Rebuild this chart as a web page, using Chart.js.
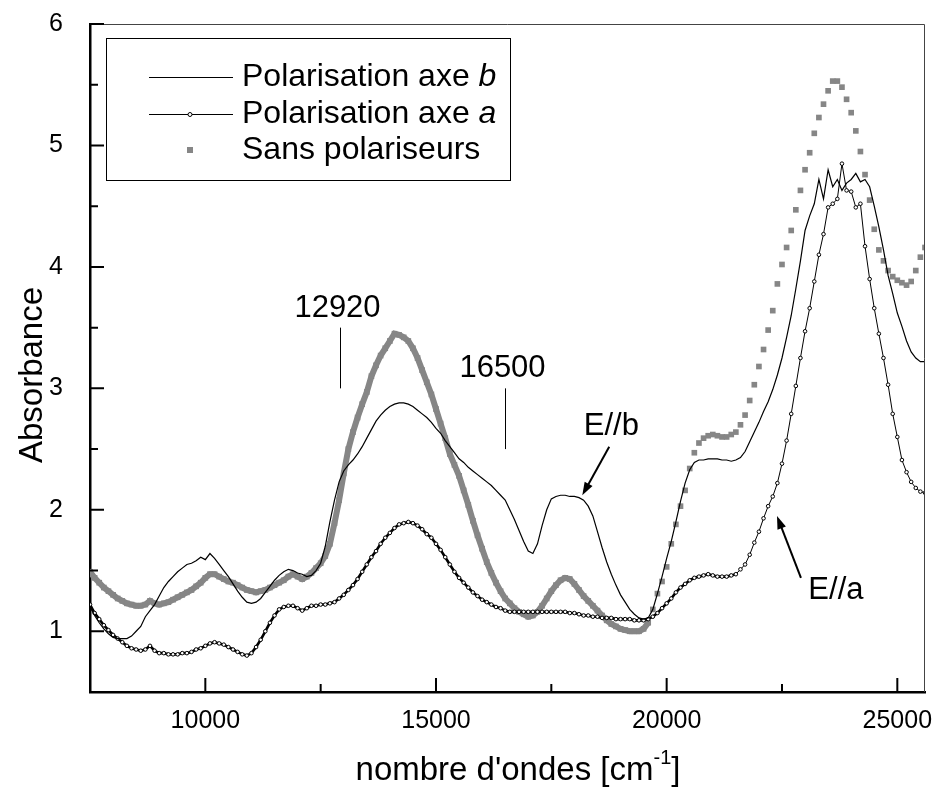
<!DOCTYPE html>
<html>
<head>
<meta charset="utf-8">
<title>Absorbance</title>
<script src="https://cdn.jsdelivr.net/npm/chart.js@4.4.1/dist/chart.umd.min.js"></script>
<style>
html, body { margin: 0; padding: 0; background: #fff; }
#wrap { width: 935px; height: 789px; }
</style>
</head>
<body>
<div id="wrap"><canvas id="spectre" width="935" height="789"></canvas></div>
<script>
// nombre d'ondes (cm-1)
const nombreOndes = [
  7500, 7600, 7700, 7800, 7900, 8000, 8100, 8200, 8300, 8400,
  8500, 8600, 8700, 8800, 8900, 9000, 9100, 9200, 9300, 9400,
  9500, 9600, 9700, 9800, 9900, 10000, 10100, 10200, 10300, 10400,
  10500, 10600, 10700, 10800, 10900, 11000, 11100, 11200, 11300, 11400,
  11500, 11600, 11700, 11800, 11900, 12000, 12100, 12200, 12300, 12400,
  12500, 12600, 12700, 12800, 12900, 13000, 13100, 13200, 13300, 13400,
  13500, 13600, 13700, 13800, 13900, 14000, 14100, 14200, 14300, 14400,
  14500, 14600, 14700, 14800, 14900, 15000, 15100, 15200, 15300, 15400,
  15500, 15600, 15700, 15800, 15900, 16000, 16100, 16200, 16300, 16400,
  16500, 16600, 16700, 16800, 16900, 17000, 17100, 17200, 17300, 17400,
  17500, 17600, 17700, 17800, 17900, 18000, 18100, 18200, 18300, 18400,
  18500, 18600, 18700, 18800, 18900, 19000, 19100, 19200, 19300, 19400,
  19500, 19600, 19700, 19800, 19900, 20000, 20100, 20200, 20300, 20400,
  20500, 20600, 20700, 20800, 20900, 21000, 21100, 21200, 21300, 21400,
  21500, 21600, 21700, 21800, 21900, 22000, 22100, 22200, 22300, 22400,
  22500, 22600, 22700, 22800, 22900, 23000, 23100, 23200, 23300, 23400,
  23500, 23600, 23700, 23800, 23900, 24000, 24100, 24200, 24300, 24400,
  24500, 24600, 24700, 24800, 24900, 25000, 25100, 25200, 25300, 25400,
  25500, 25600
];

// absorbance, polarisation le long de l'axe b
const axeB = [
  1.20, 1.13, 1.07, 1.02, 0.98, 0.95, 0.94, 0.94, 0.94, 0.96,
  1.00, 1.04, 1.12, 1.17, 1.22, 1.29, 1.36, 1.41, 1.45, 1.49,
  1.52, 1.55, 1.56, 1.58, 1.61, 1.59, 1.64, 1.60, 1.55, 1.50,
  1.45, 1.39, 1.33, 1.28, 1.24, 1.23, 1.24, 1.27, 1.32, 1.37,
  1.42, 1.46, 1.49, 1.51, 1.50, 1.48, 1.47, 1.45, 1.46, 1.50,
  1.56, 1.70, 1.90, 2.08, 2.23, 2.32, 2.37, 2.41, 2.46, 2.52,
  2.59, 2.66, 2.73, 2.78, 2.82, 2.85, 2.87, 2.88, 2.88, 2.87,
  2.85, 2.82, 2.79, 2.76, 2.72, 2.67, 2.63, 2.57, 2.52, 2.47,
  2.42, 2.39, 2.35, 2.32, 2.29, 2.26, 2.23, 2.20, 2.16, 2.12,
  2.08, 2.00, 1.92, 1.83, 1.74, 1.66, 1.64, 1.72, 1.87, 2.00,
  2.09, 2.11, 2.12, 2.12, 2.11, 2.11, 2.10, 2.08, 2.03, 1.95,
  1.82, 1.69, 1.57, 1.47, 1.38, 1.30, 1.24, 1.18, 1.14, 1.11,
  1.10, 1.11, 1.18, 1.31, 1.45, 1.60, 1.74, 1.90, 2.07, 2.22,
  2.33, 2.39, 2.41, 2.41, 2.42, 2.42, 2.42, 2.41, 2.41, 2.40,
  2.41, 2.43, 2.48, 2.56, 2.64, 2.72, 2.81, 2.89, 2.99, 3.11,
  3.25, 3.42, 3.60, 3.82, 4.05, 4.30, 4.42, 4.52, 4.72, 4.56,
  4.80, 4.66, 4.72, 4.63, 4.69, 4.72, 4.77, 4.70, 4.72, 4.66,
  4.50, 4.33, 4.14, 3.93, 3.78, 3.62, 3.51, 3.39, 3.30, 3.25,
  3.22, 3.22
];

// absorbance, polarisation le long de l'axe a
const axeA = [
  1.22, 1.15, 1.10, 1.05, 1.01, 0.97, 0.94, 0.91, 0.88, 0.86,
  0.85, 0.84, 0.85, 0.88, 0.84, 0.82, 0.82, 0.81, 0.81, 0.81,
  0.82, 0.82, 0.83, 0.85, 0.86, 0.88, 0.90, 0.91, 0.90, 0.89,
  0.87, 0.85, 0.83, 0.81, 0.80, 0.82, 0.87, 0.93, 1.00, 1.07,
  1.13, 1.18, 1.20, 1.21, 1.21, 1.19, 1.17, 1.19, 1.21, 1.21,
  1.22, 1.22, 1.23, 1.24, 1.27, 1.30, 1.34, 1.38, 1.43, 1.49,
  1.55, 1.61, 1.66, 1.72, 1.77, 1.81, 1.85, 1.88, 1.89, 1.90,
  1.89, 1.87, 1.84, 1.80, 1.77, 1.72, 1.67, 1.61, 1.55, 1.49,
  1.44, 1.40, 1.36, 1.32, 1.29, 1.26, 1.24, 1.22, 1.20, 1.19,
  1.17, 1.16, 1.16, 1.16, 1.16, 1.16, 1.16, 1.16, 1.16, 1.16,
  1.16, 1.16, 1.16, 1.16, 1.15, 1.15, 1.14, 1.13, 1.13, 1.12,
  1.12, 1.11, 1.11, 1.11, 1.10, 1.10, 1.10, 1.10, 1.09, 1.09,
  1.09, 1.10, 1.12, 1.15, 1.19, 1.23, 1.27, 1.32, 1.36, 1.39,
  1.42, 1.44, 1.45, 1.46, 1.47, 1.46, 1.45, 1.45, 1.45, 1.46,
  1.47, 1.51, 1.55, 1.63, 1.73, 1.82, 1.93, 2.03, 2.11, 2.22,
  2.38, 2.57, 2.79, 3.02, 3.25, 3.47, 3.66, 3.88, 4.10, 4.27,
  4.49, 4.52, 4.56, 4.85, 4.63, 4.62, 4.49, 4.52, 4.17, 3.90,
  3.66, 3.45, 3.25, 3.03, 2.79, 2.60, 2.41, 2.31, 2.23, 2.18,
  2.15, 2.14
];

// absorbance sans polariseurs
const sansPol = [
  1.49, 1.44, 1.40, 1.36, 1.33, 1.30, 1.27, 1.25, 1.23, 1.22,
  1.21, 1.21, 1.22, 1.25, 1.23, 1.22, 1.23, 1.24, 1.26, 1.28,
  1.30, 1.32, 1.34, 1.37, 1.40, 1.44, 1.47, 1.47, 1.45, 1.43,
  1.41, 1.40, 1.38, 1.36, 1.34, 1.33, 1.32, 1.33, 1.34, 1.36,
  1.38, 1.40, 1.42, 1.45, 1.47, 1.45, 1.43, 1.45, 1.48, 1.52,
  1.56, 1.62, 1.72, 1.89, 2.08, 2.30, 2.50, 2.64, 2.76, 2.87,
  2.97, 3.10, 3.19, 3.27, 3.33, 3.39, 3.45, 3.44, 3.42, 3.39,
  3.33, 3.25, 3.15, 3.05, 2.95, 2.83, 2.71, 2.59, 2.46, 2.37,
  2.28, 2.16, 2.04, 1.91, 1.79, 1.68, 1.57, 1.48, 1.40, 1.33,
  1.27, 1.23, 1.19, 1.16, 1.14, 1.12, 1.13, 1.16, 1.21, 1.27,
  1.33, 1.38, 1.42, 1.44, 1.43, 1.39, 1.34, 1.29, 1.25, 1.21,
  1.17, 1.13, 1.09, 1.06, 1.04, 1.02, 1.01, 1.00, 1.00, 1.00,
  1.02, 1.07, 1.18, 1.31, 1.41, 1.53, 1.72, 1.88, 2.03, 2.16,
  2.34, 2.47, 2.55, 2.59, 2.61, 2.62, 2.61, 2.60, 2.60, 2.62,
  2.64, 2.70, 2.78, 2.90, 3.03, 3.18, 3.32, 3.48, 3.64, 3.86,
  4.02, 4.16, 4.30, 4.47, 4.63, 4.80, 4.94, 5.10, 5.23, 5.34,
  5.45, 5.53, 5.53, 5.48, 5.38, 5.27, 5.12, 4.95, 4.76, 4.55,
  4.31, 4.14, 4.05, 3.97, 3.92, 3.89, 3.87, 3.85, 3.88, 3.97,
  4.08, 4.16
];

// graduations
const xTicks = [10000, 15000, 20000, 25000];
const xMinor = [12500, 17500, 22500];
const yTicks = [1, 2, 3, 4, 5, 6];
const yMinor = [1.5, 2.5, 3.5, 4.5, 5.5];

// repères de bandes : position, bas et haut du trait
const bandes = [12920, 16500];
const bandesBas = [3.0, 2.5];
const bandesHaut = [3.5, 3.0];

const FONT = "'Liberation Sans', Arial, Helvetica, sans-serif";
const GRIS = '#868686';

function points(vals) {
  return nombreOndes.map((x, i) => ({ x: x, y: vals[i] }));
}

// trait + flèche entre deux points en coordonnées de données
function fleche(ctx, x, y, from, to) {
  const x0 = x.getPixelForValue(from[0]), y0 = y.getPixelForValue(from[1]);
  const x1 = x.getPixelForValue(to[0]), y1 = y.getPixelForValue(to[1]);
  const ang = Math.atan2(y1 - y0, x1 - x0);
  const L = 13, W = 4.5;
  ctx.strokeStyle = '#000';
  ctx.lineWidth = 2;
  ctx.beginPath();
  ctx.moveTo(x0, y0);
  ctx.lineTo(x1 - Math.cos(ang) * L * 0.8, y1 - Math.sin(ang) * L * 0.8);
  ctx.stroke();
  ctx.fillStyle = '#000';
  ctx.beginPath();
  ctx.moveTo(x1, y1);
  ctx.lineTo(x1 - Math.cos(ang) * L - Math.sin(ang) * W, y1 - Math.sin(ang) * L + Math.cos(ang) * W);
  ctx.lineTo(x1 - Math.cos(ang) * L + Math.sin(ang) * W, y1 - Math.sin(ang) * L - Math.cos(ang) * W);
  ctx.closePath();
  ctx.fill();
}

const habillage = {
  id: 'habillage',
  afterDraw(chart) {
    const ctx = chart.ctx;
    const a = chart.chartArea;
    const x = chart.scales.x, y = chart.scales.y;
    ctx.save();

    // cadre haut et droite
    ctx.strokeStyle = '#444';
    ctx.lineWidth = 1;
    ctx.beginPath();
    ctx.moveTo(a.left, a.top + 0.5);
    ctx.lineTo(a.right - 0.5, a.top + 0.5);
    ctx.lineTo(a.right - 0.5, a.bottom);
    ctx.stroke();

    // graduations vers l'intérieur
    ctx.strokeStyle = '#000';
    ctx.lineWidth = 2;
    ctx.beginPath();
    xTicks.forEach(v => { const p = x.getPixelForValue(v); ctx.moveTo(p, a.bottom); ctx.lineTo(p, a.bottom - 14); });
    xMinor.forEach(v => { const p = x.getPixelForValue(v); ctx.moveTo(p, a.bottom); ctx.lineTo(p, a.bottom - 8); });
    yTicks.forEach(v => { const p = y.getPixelForValue(v); ctx.moveTo(a.left, p); ctx.lineTo(a.left + 14, p); });
    yMinor.forEach(v => { const p = y.getPixelForValue(v); ctx.moveTo(a.left, p); ctx.lineTo(a.left + 8, p); });
    ctx.stroke();

    // repères 12920 et 16500
    ctx.lineWidth = 1;
    ctx.font = '31px ' + FONT;
    ctx.fillStyle = '#000';
    ctx.textAlign = 'center';
    ctx.textBaseline = 'alphabetic';
    bandes.forEach((v, i) => {
      const p = Math.round(x.getPixelForValue(v)) + 0.5;
      const yh = y.getPixelForValue(bandesHaut[i]);
      ctx.beginPath();
      ctx.moveTo(p, y.getPixelForValue(bandesBas[i]));
      ctx.lineTo(p, yh);
      ctx.stroke();
      ctx.fillText(String(v), p - 3, yh - 11);
    });

    // flèches E//b et E//a
    fleche(ctx, x, y, [18755, 2.52], [18171, 2.12]);
    fleche(ctx, x, y, [22911, 1.44], [22392, 1.95]);
    ctx.textBaseline = 'middle';
    ctx.fillText('E//b', x.getPixelForValue(18800), y.getPixelForValue(2.69));
    ctx.fillText('E//a', x.getPixelForValue(23669), y.getPixelForValue(1.34));

    // légende
    const ds = chart.data.datasets;
    ctx.fillStyle = '#fff';
    ctx.fillRect(106, 38, 404, 142);
    ctx.strokeStyle = '#000';
    ctx.lineWidth = 1;
    ctx.strokeRect(106.5, 38.5, 404, 142);
    const rangs = [77, 114, 150];
    ctx.textAlign = 'left';
    ctx.textBaseline = 'middle';
    ds.forEach((d, i) => {
      const ry = rangs[i];
      ctx.strokeStyle = '#000';
      if (i < 2) {
        ctx.lineWidth = 1;
        ctx.beginPath();
        ctx.moveTo(149, ry + 0.5);
        ctx.lineTo(233, ry + 0.5);
        ctx.stroke();
      }
      if (i === 1) {
        ctx.fillStyle = '#fff';
        ctx.beginPath();
        ctx.arc(190, ry + 0.5, 2, 0, Math.PI * 2);
        ctx.fill();
        ctx.stroke();
      }
      if (i === 2) {
        ctx.fillStyle = GRIS;
        ctx.fillRect(187, ry - 3, 6, 6);
      }
      ctx.fillStyle = '#000';
      ctx.font = '32px ' + FONT;
      const base = d.label.replace(/ [ab]$/, ' ');
      ctx.fillText(base, 242, ry);
      if (base !== d.label) {
        const w = ctx.measureText(base).width;
        ctx.font = 'italic 32px ' + FONT;
        ctx.fillText(d.label.slice(-1), 242 + w, ry);
      }
    });

    // titres des axes
    ctx.fillStyle = '#000';
    ctx.font = '33px ' + FONT;
    ctx.save();
    ctx.translate(33, 375);
    ctx.rotate(-Math.PI / 2);
    ctx.textAlign = 'center';
    ctx.fillText('Absorbance', 0, 0);
    ctx.restore();

    const t1 = "nombre d'ondes [cm", t2 = '-1', t3 = ']';
    ctx.font = '33px ' + FONT;
    const w1 = ctx.measureText(t1).width, w3 = ctx.measureText(t3).width;
    ctx.font = '20px ' + FONT;
    const w2 = ctx.measureText(t2).width;
    let xt = 518 - (w1 + w2 + w3) / 2;
    const yt = 771;
    ctx.textAlign = 'left';
    ctx.font = '33px ' + FONT;
    ctx.fillText(t1, xt, yt);
    xt += w1;
    ctx.font = '20px ' + FONT;
    ctx.fillText(t2, xt, yt - 13);
    xt += w2;
    ctx.font = '33px ' + FONT;
    ctx.fillText(t3, xt, yt);

    ctx.restore();
  }
};

new Chart(document.getElementById('spectre'), {
  type: 'line',
  data: {
    datasets: [
      {
        label: 'Polarisation axe b',
        data: points(axeB),
        borderColor: '#000',
        borderWidth: 1.2,
        pointRadius: 0,
        tension: 0,
        order: 1
      },
      {
        label: 'Polarisation axe a',
        data: points(axeA),
        borderColor: '#000',
        borderWidth: 1,
        pointRadius: 1.8,
        pointBorderWidth: 1,
        pointBorderColor: '#000',
        pointBackgroundColor: '#fff',
        segment: { borderWidth: c => c.p0.parsed.x < 21500 ? 2.6 : 1 },
        tension: 0,
        order: 2
      },
      {
        label: 'Sans polariseurs',
        data: points(sansPol),
        borderColor: GRIS,
        borderWidth: 6,
        pointStyle: 'rect',
        pointRadius: 4,
        pointBorderWidth: 0,
        pointBackgroundColor: GRIS,
        segment: { borderColor: c => c.p0.parsed.x >= 19600 ? 'rgba(0,0,0,0)' : GRIS },
        tension: 0,
        order: 3
      }
    ]
  },
  options: {
    responsive: false,
    animation: false,
    events: [],
    layout: { padding: { top: 24, right: 10, left: 0, bottom: 0 } },
    plugins: { legend: { display: false }, tooltip: { enabled: false } },
    scales: {
      x: {
        type: 'linear',
        min: 7500,
        max: 25600,
        afterBuildTicks: s => { s.ticks = xTicks.map(v => ({ value: v })); },
        afterFit: s => { s.height = 97; s.paddingLeft = 0; s.paddingRight = 0; },
        grid: { display: false, drawTicks: false },
        border: { display: true, color: '#000', width: 2.5 },
        ticks: {
          color: '#000',
          font: { family: FONT, size: 25 },
          padding: 14,
          maxRotation: 0,
          autoSkip: false,
          callback: v => String(v)
        }
      },
      y: {
        type: 'linear',
        min: 0.5,
        max: 6,
        afterBuildTicks: s => { s.ticks = yTicks.map(v => ({ value: v })); },
        afterFit: s => { s.width = 90; s.paddingTop = 0; s.paddingBottom = 0; },
        grid: { display: false, drawTicks: false },
        border: { display: true, color: '#000', width: 2.5 },
        ticks: {
          color: '#000',
          font: { family: FONT, size: 25 },
          padding: 27,
          callback: v => String(v)
        }
      }
    }
  },
  plugins: [habillage]
});
</script>
</body>
</html>
